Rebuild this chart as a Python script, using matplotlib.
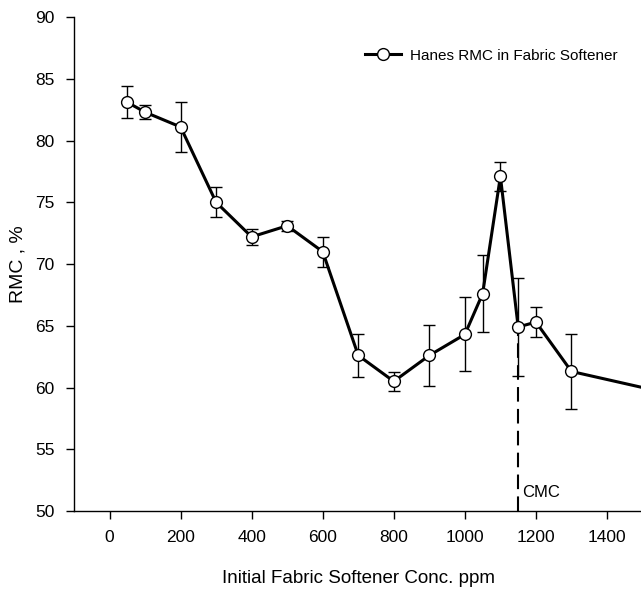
import numpy as np
import matplotlib
matplotlib.use("Agg")
import matplotlib.pyplot as plt

# Hanes RMC vs fabric softener concentration
conc = [50, 100, 200, 300, 400, 500, 600, 700, 800, 900, 1000, 1050, 1100, 1150, 1200, 1300, 1600]
rmc = [83.1, 82.3, 81.1, 75.0, 72.2, 73.1, 71.0, 62.6, 60.5, 62.6, 64.3, 67.6, 77.1, 64.9, 65.3, 61.3, 59.35]
err = [1.3, 0.55, 2.05, 1.2, 0.65, 0.4, 1.2, 1.75, 0.75, 2.45, 3.0, 3.1, 1.15, 4.0, 1.2, 3.05, 0.0]
cmc = 1150
cmc_top = 64.9

plt.rcParams['font.family'] = ['Liberation Sans', 'DejaVu Sans']

fig = plt.figure(figsize=(6.41, 5.94), dpi=100)
ax = fig.add_axes([0.1154, 0.1397, 0.887, 0.8316])

ax.errorbar(conc, rmc, yerr=err, fmt='none', ecolor='black', elinewidth=1, capsize=4.5, capthick=1, zorder=2)
ax.plot(conc, rmc, color='black', linewidth=2.2, marker='o', markersize=8.5,
        markerfacecolor='white', markeredgecolor='black', markeredgewidth=1,
        label='Hanes RMC in Fabric Softener', zorder=3)

ax.plot([cmc, cmc], [50, cmc_top], color='black', linewidth=1.5, linestyle=(0, (7, 3.5)), zorder=1)
ax.text(cmc + 12, 50.9, 'CMC', fontsize=12, ha='left', va='bottom')

ax.set_xlim(-100, 1500)
ax.set_ylim(50, 90)
ax.set_xticks(np.arange(0, 1401, 200))
ax.set_yticks(np.arange(50, 91, 5))
ax.tick_params(direction='out', length=6, width=1, labelsize=12.5, pad=8, colors='black')
for s in ['top', 'right']:
    ax.spines[s].set_visible(False)
for s in ['left', 'bottom']:
    ax.spines[s].set_linewidth(1)

ax.set_xlabel('Initial Fabric Softener Conc. ppm', fontsize=13.5, labelpad=18)
ax.set_ylabel('RMC , %', fontsize=14, labelpad=6)

ax.legend(loc='center left', bbox_to_anchor=(0.487, 0.922), frameon=False, fontsize=11,
          handlelength=2.4, handletextpad=0.6)

fig.savefig('out.png', dpi=100)
